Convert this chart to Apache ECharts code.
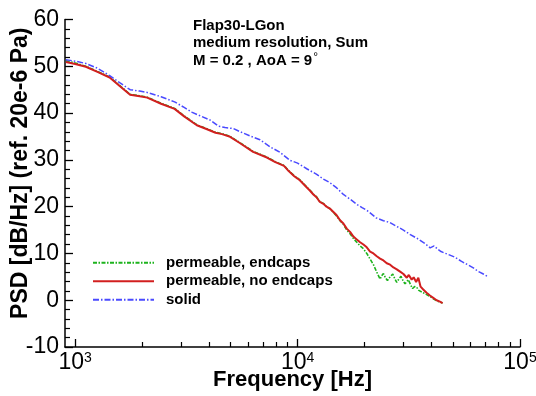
<!DOCTYPE html>
<html>
<head>
<meta charset="utf-8">
<script src="https://cdn.jsdelivr.net/npm/echarts@6/dist/echarts.min.js"></script>
<style>html,body{margin:0;padding:0;background:#fff;}#c{width:536px;height:396px;}</style>
</head>
<body>
<div id="c"></div>
<script>
// ---- data (frequency in Hz, PSD in dB/Hz) ----
const seriesNames = ['permeable, endcaps', 'permeable, no endcaps', 'solid'];
const annotationLines = ['Flap30-LGon', 'medium resolution, Sum', 'M = 0.2 , AoA = 9'];
const xMajorTicks = [1000, 10000, 100000];
const xMinorTicks = [2000,3000,4000,5000,6000,7000,8000,9000,20000,30000,40000,50000,60000,70000,80000,90000];

const freqRed = [908,1000,1117,1259,1429,1585,1766,1950,2109,2432,2799,3090,3524,3890,4276,4571,4932,5495,6310,7278,7943,8690,9120,9661,
  10000,10257,10839,11376,11776,12162,12589,13062,13490,13964,14454,14962,15524,16069,16634,17219,17824,18450,19099,19770,20464,21184,21928,22699,23496,24322,25177,26062,26977,27925,28907,29923,30974,31623,32584,33266,34119,34914,35727,36728,38019,39355,40738,42170,43652,44875];
const dbRed = [50.9,50.5,49.9,48.8,47.6,45.8,43.9,43.6,43.3,42.0,40.9,39.3,37.4,36.6,35.8,35.5,35.0,33.6,31.7,30.5,29.5,28.7,27.6,26.5,
  26.0,25.6,24.4,23.4,22.6,22.0,21.0,20.6,20.0,19.6,18.9,18.2,17.1,16.4,15.3,14.6,13.6,13.0,12.4,11.9,11.3,10.4,10.0,9.4,8.9,8.5,7.9,7.6,7.0,6.6,6.1,5.6,4.8,5.4,4.4,4.9,3.9,4.8,2.9,2.3,1.6,1.0,0.5,0.0,-0.3,-0.6];

const freqGreen = [908,1000,1117,1259,1429,1585,1766,1950,2109,2432,2799,3090,3524,3890,4276,4571,4932,5495,6310,7278,7943,8690,9120,9661,
  10000,10257,10839,11376,11776,12162,12589,13062,13490,13964,14454,14962,
  15524,16069,16634,17219,17824,18450,19099,19770,20464,21184,21928,22699,23496,23878,24322,24831,25351,26062,26792,27353,27925,28510,29174,29785,30409,30903,31477,32211,32885,33574,34277,35075,35727,36728,38019,39355,40738,42170,43652,44875];
const dbGreen = [51.2,50.7,50.0,48.9,47.7,45.9,44.0,43.7,43.4,42.1,41.0,39.4,37.5,36.7,35.9,35.6,35.1,33.7,31.8,30.6,29.6,28.8,27.7,26.6,
  26.1,25.7,24.5,23.5,22.7,22.1,21.1,20.7,20.0,19.6,18.8,18.0,
  17.0,16.2,15.0,14.2,13.2,12.4,11.6,11.0,10.0,8.8,7.6,6.0,4.5,5.2,5.7,4.8,4.2,5.0,5.6,4.6,3.8,4.5,5.1,4.2,3.5,3.9,4.4,3.3,2.5,2.9,2.8,2.1,1.8,1.6,1.2,0.8,0.3,-0.1,-0.4,-0.6];

const freqBlue = [908,1000,1117,1259,1429,1585,1766,1950,2109,2432,2799,3090,3342,3648,4046,4406,4721,5140,5521,6124,6776,7516,8337,9247,
  10000,10990,12190,13062,13996,14997,16069,17219,18450,19498,20797,22542,24322,26002,27861,29923,32137,34514,37154,39446,41115,42658,44157,47424,50933,54576,58614,61660,65163,68391,71285];
const dbBlue = [51.4,51.1,50.6,49.6,48.0,46.5,45.0,44.7,44.4,43.5,42.4,41.2,40.2,39.4,38.5,37.2,36.9,36.7,36.0,35.1,34.3,32.8,31.6,29.9,
  29.3,28.1,26.9,25.9,25.1,24.0,22.6,21.6,20.5,19.8,19.0,17.6,17.0,16.6,15.8,15.0,14.0,13.2,12.2,11.2,11.6,10.9,10.4,9.8,9.2,8.3,7.5,6.9,6.1,5.6,5.1];

function pairs(xs, ys) { return xs.map((x, i) => [x, ys[i]]); }

const FONT = '"Liberation Sans", Arial, sans-serif';
const chart = echarts.init(document.getElementById('c'), null, {renderer: 'canvas'});

chart.setOption({
  animation: false,
  backgroundColor: '#fff',
  grid: {left: 65, right: 16, top: 19.5, bottom: 49, containLabel: false, outerBoundsMode: 'none'},
  title: {
    text: '{b|' + annotationLines[0] + '}\n{b|' + annotationLines[1] + '}\n{b|' + annotationLines[2] + '}{d|°}',
    left: 193, top: 17, padding: 0,
    textStyle: {
      rich: {
        b: {fontFamily: FONT, fontWeight: 'bold', fontSize: 15, color: '#000', lineHeight: 17.5},
        d: {fontFamily: FONT, fontWeight: 'normal', fontSize: 12, color: '#000', lineHeight: 17.5, verticalAlign: 'top', padding: [0,0,6,1]}
      }
    }
  },
  legend: {
    orient: 'vertical', left: 92, top: 253.5, padding: 0,
    itemWidth: 61, itemHeight: 10, itemGap: 0,
    data: seriesNames,
    itemStyle: {opacity: 0},
    textStyle: {fontFamily: FONT, fontWeight: 'bold', fontSize: 15, color: '#000', lineHeight: 18.5, padding: [0, 0, 0, 7]}
  },
  xAxis: [{
    type: 'log', logBase: 10, min: 900, max: 100000,
    name: 'Frequency [Hz]', nameLocation: 'middle', nameGap: 22, nameMoveOverlap: false,
    nameTextStyle: {fontFamily: FONT, fontWeight: 'bold', fontSize: 22, color: '#000'},
    axisLine: {show: true, onZero: false, lineStyle: {color: '#000', width: 1.5}},
    axisTick: {show: true, inside: true, length: 8, customValues: xMajorTicks, lineStyle: {color: '#000', width: 1.3}},
    minorTick: {show: false},
    splitLine: {show: false},
    axisLabel: {
      customValues: xMajorTicks, margin: 4,
      formatter: function (v) { const e = Math.round(Math.log10(v)); return '{b|10}{s|' + e + '}'; },
      rich: {
        b: {fontFamily: FONT, fontSize: 23, color: '#000'},
        s: {fontFamily: FONT, fontSize: 14, color: '#000', verticalAlign: 'top', padding: [0, 0, 10, 0]}
      }
    }
  }, {
    type: 'log', logBase: 10, min: 900, max: 100000, position: 'bottom',
    axisLine: {show: false, onZero: false},
    axisTick: {show: true, inside: true, length: 5, customValues: xMinorTicks, lineStyle: {color: '#000', width: 1.2}},
    axisLabel: {show: false},
    splitLine: {show: false}
  }],
  yAxis: {
    type: 'value', min: -10, max: 60, interval: 10,
    name: 'PSD [dB/Hz] (ref. 20e-6 Pa)', nameLocation: 'middle', nameGap: 33, nameMoveOverlap: false,
    nameTextStyle: {fontFamily: FONT, fontWeight: 'bold', fontSize: 23, color: '#000', padding: [0, 0, 0, 20]},
    axisLine: {show: true, onZero: false, lineStyle: {color: '#000', width: 1.5}},
    axisTick: {show: true, inside: true, length: 8, lineStyle: {color: '#000', width: 1.3}},
    minorTick: {show: true, splitNumber: 5, length: 5, lineStyle: {color: '#000', width: 1.2}},
    splitLine: {show: false},
    axisLabel: {fontFamily: FONT, fontSize: 23, color: '#000', margin: 6}
  },
  series: [{
    name: seriesNames[0], type: 'line', symbol: 'none', xAxisIndex: 0,
    data: pairs(freqGreen, dbGreen),
    lineStyle: {color: '#1db31d', width: 1.6, type: [4, 1.5, 1.5, 1.5]},
    itemStyle: {color: '#1db31d'}
  }, {
    name: seriesNames[1], type: 'line', symbol: 'none', xAxisIndex: 0,
    data: pairs(freqRed, dbRed),
    lineStyle: {color: '#d21f1f', width: 2},
    itemStyle: {color: '#d21f1f'}
  }, {
    name: seriesNames[2], type: 'line', symbol: 'none', xAxisIndex: 0,
    data: pairs(freqBlue, dbBlue),
    lineStyle: {color: '#4a4aff', width: 1.5, type: [6, 2, 1.5, 2]},
    itemStyle: {color: '#4a4aff'}
  }]
});
</script>
</body>
</html>
